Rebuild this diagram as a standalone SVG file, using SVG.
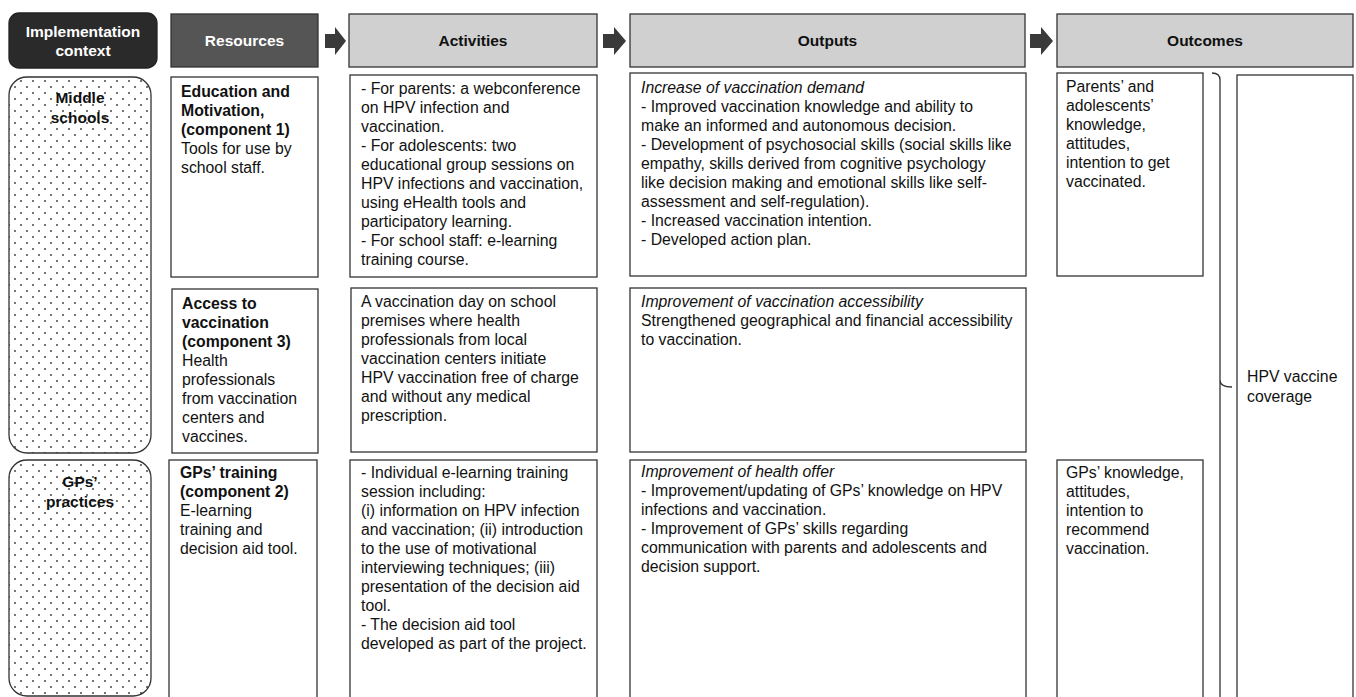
<svg xmlns="http://www.w3.org/2000/svg" width="1356" height="697" viewBox="0 0 1356 697">
<defs>
<pattern id="dots" x="0" y="0" width="12" height="12" patternUnits="userSpaceOnUse">
<circle cx="3" cy="3" r="0.9" fill="#333"/>
<circle cx="9" cy="9" r="0.9" fill="#333"/>
</pattern>
</defs>
<style>
text{font-family:"Liberation Sans",Arial,sans-serif;font-size:15.8px;fill:#111}
.b{font-weight:bold}
.i{font-style:italic}
.w{fill:#ffffff}
.c{text-anchor:middle}
.h{font-size:15.5px}
.box{fill:#ffffff;stroke:#333;stroke-width:1.3}
.hdr{fill:#d0d0d0;stroke:#333;stroke-width:1.3}
.ctx{fill:url(#dots);stroke:#333;stroke-width:1.3}
.arr{fill:#3a3a3a}
</style>
<rect width="1356" height="697" fill="#ffffff"/>

<g id="hdr-context">
<rect x="9" y="13" width="148" height="55" rx="10" fill="#2a2a2a" stroke="#222" stroke-width="1.3"/>
<text class="b w c h" x="83" y="37">Implementation</text>
<text class="b w c h" x="83" y="56">context</text>
</g>
<g id="hdr-resources">
<rect x="171" y="14" width="147" height="53" fill="#555555" stroke="#333" stroke-width="1.3"/>
<text class="b w c h" x="244.5" y="46">Resources</text>
</g>
<g id="hdr-activities">
<rect class="hdr" x="349" y="14" width="248" height="53"/>
<text class="b c h" x="473" y="46">Activities</text>
</g>
<g id="hdr-outputs">
<rect class="hdr" x="630" y="14" width="395" height="53"/>
<text class="b c h" x="827.5" y="46">Outputs</text>
</g>
<g id="hdr-outcomes">
<rect class="hdr" x="1057" y="14" width="296" height="53"/>
<text class="b c h" x="1205" y="46">Outcomes</text>
</g>

<g id="connectors">
<path class="arr" d="M325,34 H335 V27 L346,41 L335,55 V48 H325 Z"/>
<path class="arr" d="M603,34 H614 V27 L626,41 L614,55 V48 H603 Z"/>
<path class="arr" d="M1030,34 H1041 V27 L1053,41 L1041,55 V48 H1030 Z"/>
<path d="M1212,73 Q1220,73 1220,80 V380 Q1220,387 1232,387 M1220,380 Q1220,387 1220,394 V700" fill="none" stroke="#333" stroke-width="1.3"/>
</g>

<g id="ctx-middle-schools">
<rect class="ctx" x="9" y="77" width="142" height="376" rx="18"/>
<text class="b c h" x="80" y="103">Middle</text>
<text class="b c h" x="80" y="123">schools</text>
</g>
<g id="ctx-gps-practices">
<rect class="ctx" x="9" y="460" width="142" height="236" rx="18"/>
<text class="b c h" x="80" y="487">GPs’</text>
<text class="b c h" x="80" y="507">practices</text>
</g>

<g id="res-education">
<rect class="box" x="171" y="77" width="147" height="200"/>
<text x="181" y="97"><tspan class="b">Education and</tspan><tspan class="b" x="181" dy="19">Motivation,</tspan><tspan class="b" x="181" dy="19">(component 1)</tspan><tspan x="181" dy="19">Tools for use by</tspan><tspan x="181" dy="19">school staff.</tspan></text>
</g>
<g id="res-access">
<rect class="box" x="172" y="289" width="146" height="164"/>
<text x="182" y="309"><tspan class="b">Access to</tspan><tspan class="b" x="182" dy="19">vaccination</tspan><tspan class="b" x="182" dy="19">(component 3)</tspan><tspan x="182" dy="19">Health</tspan><tspan x="182" dy="19">professionals</tspan><tspan x="182" dy="19">from vaccination</tspan><tspan x="182" dy="19">centers and</tspan><tspan x="182" dy="19">vaccines.</tspan></text>
</g>
<g id="res-gps-training">
<rect class="box" x="169" y="460" width="148" height="240"/>
<text x="180" y="478"><tspan class="b">GPs’ training</tspan><tspan class="b" x="180" dy="19">(component 2)</tspan><tspan x="180" dy="19">E-learning</tspan><tspan x="180" dy="19">training and</tspan><tspan x="180" dy="19">decision aid tool.</tspan></text>
</g>

<g id="act-1">
<rect class="box" x="350" y="75" width="247" height="202"/>
<text x="361" y="94"><tspan>- For parents: a webconference</tspan><tspan x="361" dy="19">on HPV infection and</tspan><tspan x="361" dy="19">vaccination.</tspan><tspan x="361" dy="19">- For adolescents: two</tspan><tspan x="361" dy="19">educational group sessions on</tspan><tspan x="361" dy="19">HPV infections and vaccination,</tspan><tspan x="361" dy="19">using eHealth tools and</tspan><tspan x="361" dy="19">participatory learning.</tspan><tspan x="361" dy="19">- For school staff: e-learning</tspan><tspan x="361" dy="19">training course.</tspan></text>
</g>
<g id="act-2">
<rect class="box" x="351" y="288" width="246" height="164"/>
<text x="361" y="307"><tspan>A vaccination day on school</tspan><tspan x="361" dy="19">premises where health</tspan><tspan x="361" dy="19">professionals from local</tspan><tspan x="361" dy="19">vaccination centers initiate</tspan><tspan x="361" dy="19">HPV vaccination free of charge</tspan><tspan x="361" dy="19">and without any medical</tspan><tspan x="361" dy="19">prescription.</tspan></text>
</g>
<g id="act-3">
<rect class="box" x="350" y="460" width="247" height="240"/>
<text x="361" y="478"><tspan>- Individual e-learning training</tspan><tspan x="361" dy="19">session including:</tspan><tspan x="361" dy="19">(i) information on HPV infection</tspan><tspan x="361" dy="19">and vaccination; (ii) introduction</tspan><tspan x="361" dy="19">to the use of motivational</tspan><tspan x="361" dy="19">interviewing techniques; (iii)</tspan><tspan x="361" dy="19">presentation of the decision aid</tspan><tspan x="361" dy="19">tool.</tspan><tspan x="361" dy="19">- The decision aid tool</tspan><tspan x="361" dy="19">developed as part of the project.</tspan></text>
</g>

<g id="out-1">
<rect class="box" x="630" y="73" width="396" height="203"/>
<text x="641" y="93"><tspan class="i">Increase of vaccination demand</tspan><tspan x="641" dy="19">- Improved vaccination knowledge and ability to</tspan><tspan x="641" dy="19">make an informed and autonomous decision.</tspan><tspan x="641" dy="19">- Development of psychosocial skills (social skills like</tspan><tspan x="641" dy="19">empathy, skills derived from cognitive psychology</tspan><tspan x="641" dy="19">like decision making and emotional skills like self-</tspan><tspan x="641" dy="19">assessment and self-regulation).</tspan><tspan x="641" dy="19">- Increased vaccination intention.</tspan><tspan x="641" dy="19">- Developed action plan.</tspan></text>
</g>
<g id="out-2">
<rect class="box" x="630" y="288" width="396" height="164"/>
<text x="641" y="307"><tspan class="i">Improvement of vaccination accessibility</tspan><tspan x="641" dy="19">Strengthened geographical and financial accessibility</tspan><tspan x="641" dy="19">to vaccination.</tspan></text>
</g>
<g id="out-3">
<rect class="box" x="630" y="460" width="396" height="240"/>
<text x="641" y="477"><tspan class="i">Improvement of health offer</tspan><tspan x="641" dy="19">- Improvement/updating of GPs’ knowledge on HPV</tspan><tspan x="641" dy="19">infections and vaccination.</tspan><tspan x="641" dy="19">- Improvement of GPs’ skills regarding</tspan><tspan x="641" dy="19">communication with parents and adolescents and</tspan><tspan x="641" dy="19">decision support.</tspan></text>
</g>

<g id="outc-1">
<rect class="box" x="1057" y="73" width="146" height="203"/>
<text x="1066" y="92"><tspan>Parents’ and</tspan><tspan x="1066" dy="19">adolescents’</tspan><tspan x="1066" dy="19">knowledge,</tspan><tspan x="1066" dy="19">attitudes,</tspan><tspan x="1066" dy="19">intention to get</tspan><tspan x="1066" dy="19">vaccinated.</tspan></text>
</g>
<g id="outc-2">
<rect class="box" x="1057" y="460" width="146" height="240"/>
<text x="1066" y="478"><tspan>GPs’ knowledge,</tspan><tspan x="1066" dy="19">attitudes,</tspan><tspan x="1066" dy="19">intention to</tspan><tspan x="1066" dy="19">recommend</tspan><tspan x="1066" dy="19">vaccination.</tspan></text>
</g>
<g id="outc-hpv">
<rect class="box" x="1237" y="75" width="116" height="625"/>
<text x="1247" y="382"><tspan>HPV vaccine</tspan><tspan x="1247" dy="20">coverage</tspan></text>
</g>
</svg>
